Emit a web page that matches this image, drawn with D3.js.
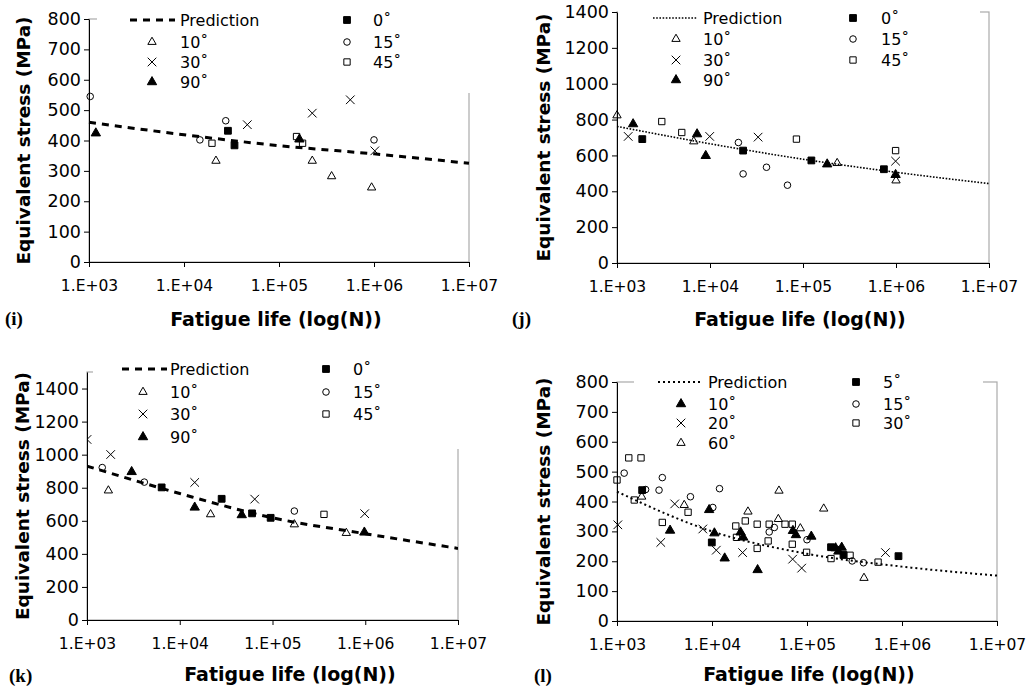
<!DOCTYPE html>
<html>
<head>
<meta charset="utf-8">
<script src="https://cdn.jsdelivr.net/npm/d3@7"></script>
<style>
  body { margin: 0; background: #fff; }
  text { font-family: "DejaVu Sans", sans-serif; }
</style>
</head>
<body>
<div id="chart"></div>
<script>
// shared x axis
var xTicks = [1e3, 1e4, 1e5, 1e6, 1e7];
var xTickLabels = ['1.E+03', '1.E+04', '1.E+05', '1.E+06', '1.E+07'];

// panel (i)  [N, stress]
var iPred = [[1e3, 460], [1e4, 419], [1e5, 383], [1e6, 356], [1e7, 325]];
var i0 = [[2.9e4, 432], [3.4e4, 384]];
var i10 = [[2.17e4, 333], [2.24e5, 333], [3.58e5, 282], [9.44e5, 245]];
var i15 = [[1.03e3, 545], [1.47e4, 402], [2.75e4, 465], [1.0e6, 402]];
var i30 = [[4.64e4, 452], [2.24e5, 490], [5.63e5, 534], [1.02e6, 366]];
var i45 = [[1.97e4, 391], [1.53e5, 413], [1.77e5, 391]];
var i90 = [[1.18e3, 424], [1.64e5, 404]];

// panel (j)
var jPred = [[1e3, 762], [1e4, 665], [1e5, 579], [1e6, 506], [1e7, 443]];
var j0 = [[1.87e3, 691], [2.27e4, 627], [1.23e5, 572], [7.41e5, 523]];
var j10 = [[1e3, 823], [6.69e3, 678], [2.33e5, 557], [1.0e6, 460]];
var j15 = [[2.02e4, 672], [2.27e4, 497], [4.05e4, 534], [6.81e4, 434]];
var j30 = [[1.32e3, 706], [9.93e3, 706], [3.29e4, 702], [9.9e5, 568]];
var j45 = [[3.03e3, 789], [4.97e3, 728], [8.5e4, 691], [9.9e5, 627]];
var j90 = [[1.49e3, 775], [7.26e3, 719], [9.0e3, 598], [1.82e5, 551], [9.9e5, 492]];

// panel (k)
var kPred = [[1e3, 931], [1e4, 765], [1e5, 618], [1e6, 522], [1e7, 433]];
var k0 = [[6.38e3, 802], [2.83e4, 733], [6.02e4, 645], [9.55e4, 618]];
var k10 = [[1.7e3, 783], [2.15e4, 639], [1.72e5, 578], [6.25e5, 526]];
var k15 = [[1.46e3, 922], [4.15e3, 834], [1.72e5, 659]];
var k30 = [[1.0e3, 1092], [1.8e3, 1001], [1.45e4, 832], [6.43e4, 731], [9.86e5, 643]];
var k45 = [[3.59e5, 639]];
var k90 = [[3.03e3, 896], [1.45e4, 681], [4.66e4, 635], [9.78e5, 530]];

// panel (l)
var lPred = [[1e3, 433], [1e4, 300], [1e5, 225], [1e6, 182], [1e7, 152]];
var l5 = [[1.84e3, 438], [9.95e3, 263], [1.79e5, 247], [2.42e5, 221], [9.18e5, 217]];
var l10 = [[3.62e3, 303], [9.33e3, 372], [1.06e4, 294], [1.36e4, 210], [2.0e4, 297], [2.13e4, 280],
           [3.02e4, 171], [7.11e4, 302], [7.65e4, 288], [1.11e5, 283], [2.0e5, 244], [2.14e5, 233], [2.32e5, 246]];
var l15 = [[1.19e3, 495], [2.0e3, 440], [2.77e3, 438], [3.0e3, 480], [5.93e3, 416], [1.02e4, 380],
           [1.2e4, 443], [4.0e4, 298], [4.53e4, 313], [1.0e5, 272], [2.99e5, 201], [3.93e5, 195]];
var l20 = [[1.02e3, 322], [2.89e3, 263], [4.05e3, 392], [8.0e3, 308], [1.11e4, 237], [2.1e4, 229],
           [7.06e4, 207], [8.79e4, 177], [6.7e5, 229]];
var l30 = [[1.0e3, 472], [1.33e3, 546], [1.79e3, 546], [1.52e3, 405], [3.0e3, 330], [5.6e3, 364],
           [1.78e4, 318], [1.81e4, 280], [2.24e4, 335], [2.99e4, 324], [2.99e4, 243], [4.0e4, 324],
           [3.9e4, 268], [5.87e4, 324], [7.0e4, 324], [7.0e4, 257], [9.9e4, 230], [1.79e5, 209],
           [2.84e5, 220], [5.6e5, 197]];
var l60 = [[1.82e3, 416], [5.1e3, 388], [2.39e4, 366], [5.07e4, 436], [4.99e4, 341], [8.51e4, 310],
           [1.5e5, 376], [3.98e5, 144]];

var svg = d3.select('#chart').append('svg')
    .attr('width', 1027).attr('height', 690);
svg.append('rect').attr('width', 1027).attr('height', 690).attr('fill', '#fff');

// marker types
var symbols = {
  fsq:   {type: d3.symbolSquare, size: 46, fill: '#000'},
  osq:   {type: d3.symbolSquare, size: 40, fill: 'none'},
  otri:  {type: d3.symbolTriangle, size: 30, fill: 'none'},
  ftri:  {type: d3.symbolTriangle, size: 38, fill: '#000'},
  circ:  {type: d3.symbolCircle, size: 34, fill: 'none'},
  cross: {type: d3.symbolX, size: 50, fill: 'none'}
};

var thick = {width: 3, dash: '7,6'};
var dotted = {width: 1.6, dash: '1.6,1.6'};
var dotted2 = {width: 2, dash: '2,3'};

var panels = [
  {label: '(i)', left: 89, right: 469, top: 19, bottom: 262, ymax: 800, ystep: 100, ytop: 800,
   pred: iPred, line: thick, clip: false,
   series: [[i0, 'fsq'], [i10, 'otri'], [i15, 'circ'], [i30, 'cross'], [i45, 'osq'], [i90, 'ftri']],
   names: ['0˚', '10˚', '15˚', '30˚', '45˚', '90˚'],
   legBox: [97, 0, 390, 93], leg: {lx0: 130, lx1: 175, tx: 180, c1: 152, c2: 347, t2: 373, rows: [20, 42, 62, 82]},
   ytitleX: 23, xtitleX: 276, xtitleY: 319, labX: 5, labY: 318},
  {label: '(j)', left: 617, right: 989, top: 12, bottom: 263, ymax: 1400, ystep: 200, ytop: 1400,
   pred: jPred, line: dotted, clip: false,
   series: [[j0, 'fsq'], [j10, 'otri'], [j15, 'circ'], [j30, 'cross'], [j45, 'osq'], [j90, 'ftri']],
   names: ['0˚', '10˚', '15˚', '30˚', '45˚', '90˚'],
   legBox: [618, 0, 362, 95], leg: {lx0: 653, lx1: 697, tx: 703, c1: 676, c2: 853, t2: 881, rows: [18, 39, 60, 80]},
   ytitleX: 543, xtitleX: 800, xtitleY: 319, labX: 512, labY: 318},
  {label: '(k)', left: 87, right: 458, top: 372, bottom: 620, ymax: 1500, ystep: 200, ytop: 1400,
   pred: kPred, line: thick, clip: true,
   series: [[k0, 'fsq'], [k10, 'otri'], [k15, 'circ'], [k30, 'cross'], [k45, 'osq'], [k90, 'ftri']],
   names: ['0˚', '10˚', '15˚', '30˚', '45˚', '90˚'],
   legBox: [93, 355, 385, 94], leg: {lx0: 122, lx1: 167, tx: 170, c1: 143, c2: 326, t2: 353, rows: [369, 392, 414, 437]},
   ytitleX: 22, xtitleX: 290, xtitleY: 674, labX: 9, labY: 675},
  {label: '(l)', left: 617, right: 997, top: 382, bottom: 621, ymax: 800, ystep: 100, ytop: 800,
   pred: lPred, line: dotted2, clip: false,
   series: [[l5, 'fsq'], [l10, 'ftri'], [l15, 'circ'], [l20, 'cross'], [l30, 'osq'], [l60, 'otri']],
   names: ['5˚', '10˚', '15˚', '20˚', '30˚', '60˚'],
   legBox: [634, 368, 349, 84], leg: {lx0: 658, lx1: 703, tx: 708, c1: 681, c2: 856, t2: 883, rows: [382, 404, 423, 443]},
   ytitleX: 543, xtitleX: 809, xtitleY: 674, labX: 534, labY: 675}
];

function marker(sel, key) {
  var s = symbols[key];
  sel.attr('d', d3.symbol().type(s.type).size(s.size)())
     .attr('fill', s.fill)
     .attr('stroke', '#000')
     .attr('stroke-width', 1);
}

panels.forEach(function(p, pi) {
  var x = d3.scaleLog().domain([1e3, 1e7]).range([p.left, p.right]);
  var y = d3.scaleLinear().domain([0, p.ymax]).range([p.bottom, p.top]);
  var g = svg.append('g');

  // plot area border (light grey)
  g.append('rect')
    .attr('x', p.left).attr('y', p.top)
    .attr('width', p.right - p.left).attr('height', p.bottom - p.top)
    .attr('fill', 'none').attr('stroke', '#aaa').attr('stroke-width', 1.2);

  // legend background hides part of the border
  g.append('rect')
    .attr('x', p.legBox[0]).attr('y', p.legBox[1])
    .attr('width', p.legBox[2]).attr('height', p.legBox[3])
    .attr('fill', '#fff');

  // axes
  var yAxis = d3.axisLeft(y).tickValues(d3.range(0, p.ytop + 1, p.ystep))
      .tickFormat(d3.format('d'))
      .tickSize(5).tickPadding(3).tickSizeOuter(0);
  var xAxis = d3.axisBottom(x).tickValues(xTicks)
      .tickFormat(function(d, i) { return xTickLabels[i]; })
      .tickSize(5).tickPadding(13).tickSizeOuter(0);

  var ya = g.append('g').attr('transform', 'translate(' + p.left + ',0)').call(yAxis);
  var xa = g.append('g').attr('transform', 'translate(0,' + p.bottom + ')').call(xAxis);
  ya.attr('font-family', 'DejaVu Sans').attr('font-size', 17.5);
  xa.attr('font-family', 'DejaVu Sans').attr('font-size', 15.5);
  [ya, xa].forEach(function(a) {
    a.selectAll('path, line').attr('stroke', '#000').attr('stroke-width', 1);
    a.selectAll('text').attr('fill', '#000');
  });

  // data layer
  var data = g.append('g');
  if (p.clip) {
    svg.append('clipPath').attr('id', 'clip' + pi).append('rect')
      .attr('x', p.left).attr('y', p.top)
      .attr('width', p.right - p.left).attr('height', p.bottom - p.top);
    data.attr('clip-path', 'url(#clip' + pi + ')');
  }

  var line = d3.line()
    .x(function(d) { return x(d[0]); })
    .y(function(d) { return y(d[1]); })
    .curve(d3.curveMonotoneX);
  data.append('path').datum(p.pred)
    .attr('d', line)
    .attr('fill', 'none').attr('stroke', '#000')
    .attr('stroke-width', p.line.width)
    .attr('stroke-dasharray', p.line.dash);

  p.series.forEach(function(s) {
    data.selectAll(null).data(s[0]).enter().append('path')
      .attr('transform', function(d) { return 'translate(' + x(d[0]) + ',' + y(d[1]) + ')'; })
      .call(marker, s[1]);
  });

  // legend
  var L = p.leg;
  var leg = g.append('g').attr('font-size', 16).attr('fill', '#000');
  leg.append('line')
    .attr('x1', L.lx0).attr('x2', L.lx1).attr('y1', L.rows[0]).attr('y2', L.rows[0])
    .attr('stroke', '#000').attr('stroke-width', p.line.width)
    .attr('stroke-dasharray', p.line.dash);
  leg.append('text').attr('x', L.tx).attr('y', L.rows[0]).attr('dy', '0.36em').text('Prediction');

  // column 1: series 1,3,5 ; column 2: series 0,2,4
  var slots = [[L.c2, L.t2, 0], [L.c1, L.tx, 1], [L.c2, L.t2, 1], [L.c1, L.tx, 2], [L.c2, L.t2, 2], [L.c1, L.tx, 3]];
  p.series.forEach(function(s, si) {
    var sl = slots[si];
    var ry = L.rows[sl[2]];
    leg.append('path').attr('transform', 'translate(' + sl[0] + ',' + ry + ')').call(marker, s[1]);
    leg.append('text').attr('x', sl[1]).attr('y', ry).attr('dy', '0.36em').text(p.names[si]);
  });

  // titles
  g.append('text')
    .attr('transform', 'translate(' + p.ytitleX + ',' + ((p.top + p.bottom) / 2) + ') rotate(-90)')
    .attr('text-anchor', 'middle').attr('dy', '0.36em')
    .attr('font-weight', 'bold').attr('font-size', 18.5)
    .text('Equivalent stress (MPa)');
  g.append('text')
    .attr('x', p.xtitleX).attr('y', p.xtitleY).attr('dy', '0.36em')
    .attr('text-anchor', 'middle')
    .attr('font-weight', 'bold').attr('font-size', 19)
    .text('Fatigue life (log(N))');
  g.append('text')
    .attr('x', p.labX).attr('y', p.labY).attr('dy', '0.36em')
    .style('font-family', '"Liberation Serif", serif')
    .attr('font-weight', 'bold').attr('font-size', 19)
    .text(p.label);
});
</script>
</body>
</html>
